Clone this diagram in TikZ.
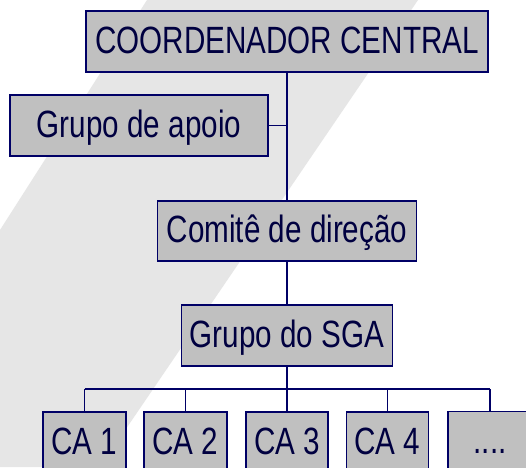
\documentclass[tikz,border=0pt]{standalone}
\usepackage{fontspec}
\usepackage{graphicx}
\setmainfont{Liberation Sans}
\definecolor{boxfill}{HTML}{C0C0C0}
\definecolor{navyline}{HTML}{000066}
\definecolor{navytext}{HTML}{000040}
\definecolor{wmgray}{HTML}{E6E6E6}
\newcommand{\narrowtxt}[1]{\scalebox{0.78}[1]{#1}}
\begin{document}
\begin{tikzpicture}[x=1pt,y=-1pt,
  orgbox/.style={draw=navyline, line width=1.5pt, fill=boxfill, rectangle,
    inner sep=0pt, minimum height=61pt, text=navytext,
    font=\fontsize{38}{40}\selectfont, text height=27pt, text depth=4pt},
  link/.style={draw=navyline, line width=1.5pt}]
\path[use as bounding box] (0,0) rectangle (526,467);
\clip (0,0) rectangle (526,467);
\fill[white] (0,0) rectangle (526,467);
% watermark band
\fill[wmgray] (147,0) -- (418,0) -- (100,467) -- (0,467) -- (0,230) -- cycle;
% boxes
\node[orgbox, minimum width=402pt] (cc) at (287,41.5) {\narrowtxt{COORDENADOR CENTRAL}};
\node[orgbox, minimum width=258pt] (ga) at (139,125.5) {\narrowtxt{Grupo de apoio}};
\node[orgbox, minimum width=259pt, minimum height=60pt] (cd) at (287,231) {\narrowtxt{Comitê de direção}};
\node[orgbox, minimum width=211pt] (sga) at (287,335.5) {\narrowtxt{Grupo do SGA}};
\node[orgbox, minimum width=83pt] (ca1) at (84.5,442.5) {\narrowtxt{CA 1}};
\node[orgbox, minimum width=83pt] (ca2) at (185.5,442.5) {\narrowtxt{CA 2}};
\node[orgbox, minimum width=82pt] (ca3) at (287,442.5) {\narrowtxt{CA 3}};
\node[orgbox, minimum width=82pt] (ca4) at (387.5,442.5) {\narrowtxt{CA 4}};
\node[orgbox, minimum width=84pt] (dots) at (490,442) {\narrowtxt{....}};
% connectors
\coordinate (bus) at (287,389);
\draw[link] (cc.south) -- (cd.north);
\draw[link] (ga.east) -- (ga.east -| cc.south);
\draw[link] (cd.south) -- (sga.north);
\draw[link] (sga.south) -- (bus);
\draw[link] (ca1.north |- bus) -- (dots.north |- bus);
\draw[link] (ca1.north) -- (ca1.north |- bus);
\draw[link] (ca2.north) -- (ca2.north |- bus);
\draw[link] (ca3.north) -- (ca3.north |- bus);
\draw[link] (ca4.north) -- (ca4.north |- bus);
\draw[link] (dots.north) -- (dots.north |- bus);
\end{tikzpicture}
\end{document}
